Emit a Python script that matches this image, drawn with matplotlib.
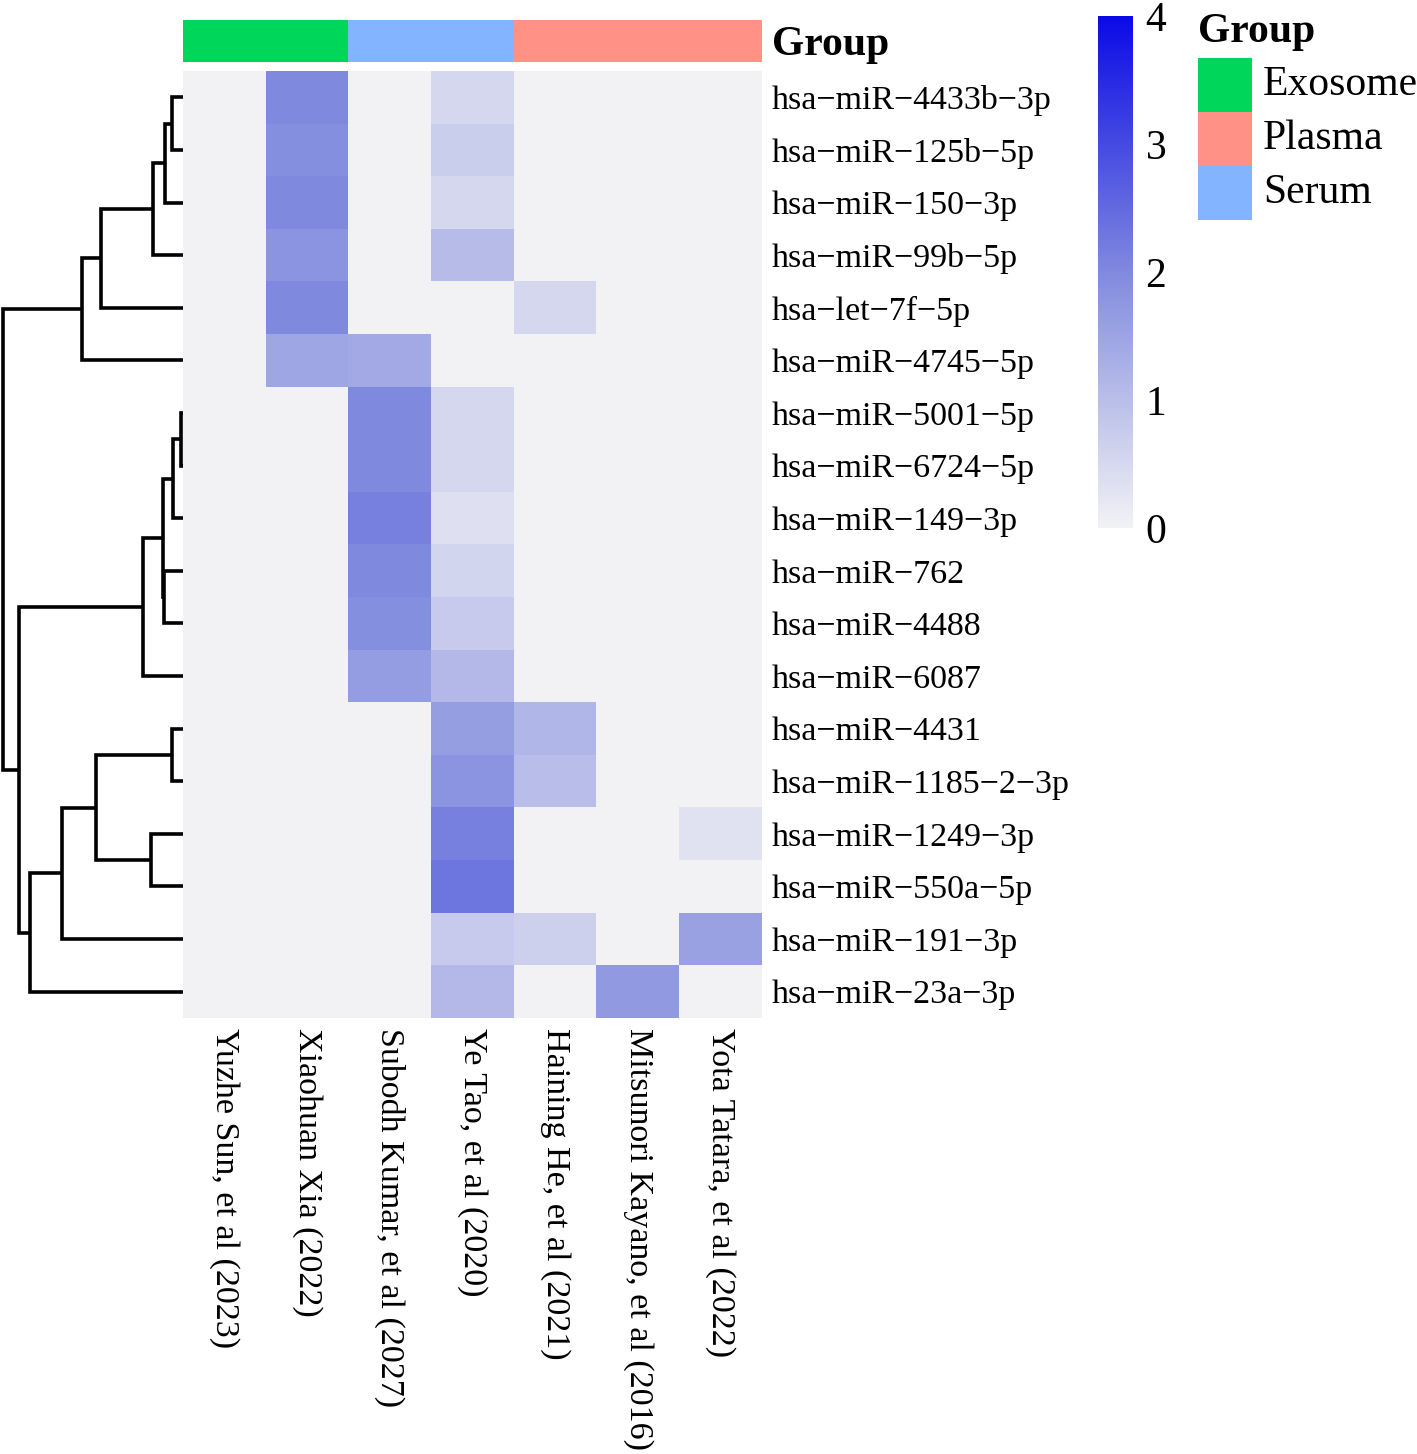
import numpy as np
import matplotlib
matplotlib.use("Agg")
import matplotlib.pyplot as plt
from matplotlib.colors import LinearSegmentedColormap, ListedColormap, Normalize
from matplotlib.patches import Rectangle
import matplotlib.cm as cm

plt.rcParams['font.family'] = ['Liberation Serif', 'DejaVu Serif']

# ---- data ----
studies = ["Yuzhe Sun, et al (2023)", "Xiaohuan Xia (2022)", "Subodh Kumar, et al (2027)",
           "Ye Tao, et al (2020)", "Haining He, et al (2021)", "Mitsunori Kayano, et al (2016)",
           "Yota Tatara, et al (2022)"]
study_group = ["Exosome", "Exosome", "Serum", "Serum", "Plasma", "Plasma", "Plasma"]

mirnas = ["hsa−miR−4433b−3p", "hsa−miR−125b−5p", "hsa−miR−150−3p", "hsa−miR−99b−5p",
          "hsa−let−7f−5p", "hsa−miR−4745−5p", "hsa−miR−5001−5p", "hsa−miR−6724−5p",
          "hsa−miR−149−3p", "hsa−miR−762", "hsa−miR−4488", "hsa−miR−6087",
          "hsa−miR−4431", "hsa−miR−1185−2−3p", "hsa−miR−1249−3p", "hsa−miR−550a−5p",
          "hsa−miR−191−3p", "hsa−miR−23a−3p"]

# one row per miRNA, columns follow `studies`
values = np.array([
    [0, 2.00, 0,    0.50, 0,    0,    0],
    [0, 1.90, 0,    0.70, 0,    0,    0],
    [0, 2.00, 0,    0.50, 0,    0,    0],
    [0, 1.80, 0,    1.05, 0,    0,    0],
    [0, 2.00, 0,    0,    0.50, 0,    0],
    [0, 1.45, 1.40, 0,    0,    0,    0],
    [0, 0,    2.00, 0.50, 0,    0,    0],
    [0, 0,    2.00, 0.50, 0,    0,    0],
    [0, 0,    2.15, 0.35, 0,    0,    0],
    [0, 0,    2.00, 0.55, 0,    0,    0],
    [0, 0,    1.90, 0.75, 0,    0,    0],
    [0, 0,    1.65, 1.10, 0,    0,    0],
    [0, 0,    0,    1.60, 1.15, 0,    0],
    [0, 0,    0,    1.80, 1.00, 0,    0],
    [0, 0,    0,    2.15, 0,    0,    0.30],
    [0, 0,    0,    2.30, 0,    0,    0],
    [0, 0,    0,    0.75, 0.65, 0,    1.55],
    [0, 0,    0,    1.10, 0,    1.70, 0],
])

# row dendrogram: (child a, child b, height); leaves are 0..17
row_links = [
    (0, 1, 11), (18, 2, 18), (19, 3, 30), (20, 4, 82), (21, 5, 101),
    (6, 7, 2), (23, 8, 10), (9, 10, 19), (24, 25, 20), (26, 11, 40),
    (12, 13, 11), (14, 15, 32), (28, 29, 87), (30, 16, 121), (31, 17, 153),
    (27, 32, 164), (22, 33, 180),
]

group_names = ["Exosome", "Plasma", "Serum"]
group_colors = {"Exosome": "#00D65A", "Plasma": "#FF9187", "Serum": "#82B4FF"}

# ---- layout (pixels) ----
W, H = 1417, 1454
fig = plt.figure(figsize=(W / 100, H / 100), dpi=100)


def px_axes(x0, y0, x1, y1):
    return fig.add_axes([x0 / W, 1 - y1 / H, (x1 - x0) / W, (y1 - y0) / H])


cmap = LinearSegmentedColormap.from_list("blu", [(0, "#F2F2F5"), (0.5, "#808ADE"), (1, "#0A0AE6")])
norm = Normalize(0, 4)
fs = 24.5    # row / column labels
fs_big = 30  # group titles, legend, colorbar

# heatmap
ax = px_axes(183, 71, 762, 1018)
nr, nc = values.shape
ax.imshow(values, cmap=cmap, norm=norm, aspect="auto", interpolation="nearest")
ax.set_xlim(-0.5, nc - 0.5)
ax.set_ylim(nr - 0.5, -0.5)
ax.set_yticks(range(nr))
ax.set_yticklabels(mirnas, fontsize=fs)
ax.yaxis.tick_right()
ax.set_xticks(range(nc))
ax.set_xticklabels(studies, fontsize=fs, rotation=270, ha="center", va="top")
ax.tick_params(length=0)
ax.tick_params(axis="y", pad=7)
ax.tick_params(axis="x", pad=7)
for s in ax.spines.values():
    s.set_visible(False)

# annotation bar
ax_a = px_axes(183, 20, 762, 62)
codes = np.array([[group_names.index(g) for g in study_group]])
ax_a.imshow(codes, cmap=ListedColormap([group_colors[g] for g in group_names]),
            vmin=-0.5, vmax=len(group_names) - 0.5, aspect="auto", interpolation="nearest")
ax_a.set_xticks([])
ax_a.set_yticks([0])
ax_a.set_yticklabels(["Group"], fontsize=fs_big, fontweight="bold")
ax_a.yaxis.tick_right()
ax_a.tick_params(length=0, pad=7)
for s in ax_a.spines.values():
    s.set_visible(False)

# row dendrogram
ax_d = px_axes(0, 71, 183, 1018)
pos = {i: (0.0, float(i)) for i in range(nr)}
for k, (a, b, h) in enumerate(row_links):
    ha_, ya = pos[a]
    hb, yb = pos[b]
    ax_d.plot([ha_, h, h, hb], [ya, ya, yb, yb], color="black", lw=2.6,
              solid_joinstyle="miter", solid_capstyle="butt")
    pos[nr + k] = (h, (ya + yb) / 2)
ax_d.set_xlim(183, 0)
ax_d.set_ylim(nr - 0.5, -0.5)
ax_d.axis("off")

# colorbar
ax_c = px_axes(1098, 16, 1133, 528)
cb = fig.colorbar(cm.ScalarMappable(norm=norm, cmap=cmap), cax=ax_c, ticks=[0, 1, 2, 3, 4])
cb.outline.set_visible(False)
ax_c.tick_params(length=0, pad=9, labelsize=fs_big)

# group legend
ax_l = fig.add_axes([0, 0, 1, 1])
ax_l.set_xlim(0, W)
ax_l.set_ylim(H, 0)
ax_l.axis("off")
ax_l.text(1198, 32, "Group", fontsize=fs_big, fontweight="bold", va="center", ha="left")
for i, g in enumerate(group_names):
    y0 = 58 + i * 54
    ax_l.add_patch(Rectangle((1198, y0), 54, 54, color=group_colors[g], lw=0))
    ax_l.text(1263, y0 + 27, g, fontsize=fs_big, va="center", ha="left")

fig.savefig("out.png", dpi=100, facecolor="white")
